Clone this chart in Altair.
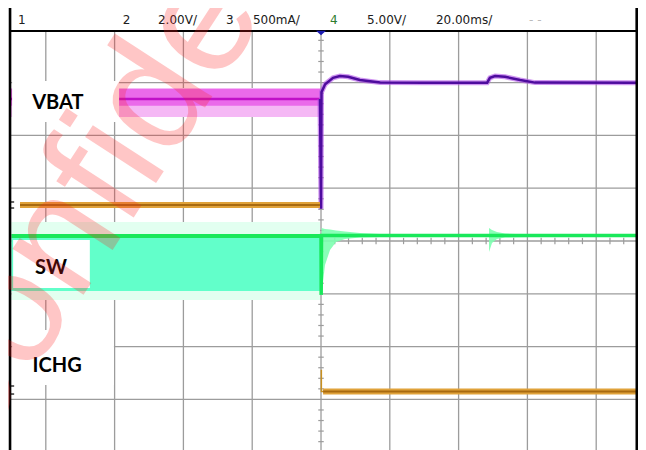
import altair as alt
import pandas as pd

# ---- scale extents (time in ms at 20 ms/div, vertical in screen divisions) ----
T_MIN, T_MAX = -90.99, 92.15
D_MIN, D_MAX = -3.958, 4.413
FRAME_L, FRAME_R = -90.4, 91.8
HEADER_D = 3.977

grid_t = [-80, -60, -40, -20, 0, 20, 40, 60, 80]
grid_d = [-3, -2, -1, 0, 1, 2, 3]

# ---- VBAT (ch2) ----
vbat_pre_t = [-90.4, -0.3]
vbat_pre_core = 2.69
vbat_pre_dense = (2.56, 2.88)
vbat_pre_fringe = (2.35, 2.90)
vbat_post_t = [-0.3, 0.0, 0.15, 1.2, 3.5, 5.5, 7.9, 11.3, 17.2, 30.0, 48.3, 49.1, 50.6, 53.5, 57.9, 62.2, 93.0]
vbat_post_d = [2.69, 0.61, 2.82, 2.97, 3.09, 3.125, 3.11, 3.05, 3.00, 2.998, 2.998, 3.09, 3.125, 3.11, 3.05, 3.00, 2.998]

# ---- ICHG (ch3) ----
ichg_pre_t = [-87.5, -0.3]
ichg_pre_d = [0.682, 0.682]
ichg_post_t = [0.6, 93.0]
ichg_post_d = [-2.85, -2.85]
ichg_spike_t = [0.1, 0.1, 0.6]
ichg_spike_d = [-2.44, -2.85, -2.85]

# ---- SW (ch4) ----
sw_pre_t = [-90.0, -0.3]
sw_pre_line = 0.095
sw_pre_fill = (-0.947, 0.057)
sw_pre_fringe = (-1.117, 0.36)
sw_post_t = [-0.3, 0.0, 0.05, 0.15, 93.0]
sw_post_d = [0.095, 0.095, -1.02, 0.104, 0.104]
env1_t = [0.15, 1.16, 2.62, 4.36, 6.98, 11.34, 17.15]
env1_hi = [0.246, 0.227, 0.218, 0.199, 0.180, 0.152, 0.133]
env1_lo = [-1.023, -0.455, -0.170, -0.019, 0.038, 0.066, 0.076]
env2_t = [48.84, 49.71, 51.16, 53.49, 60.76]
env2_hi = [0.246, 0.208, 0.170, 0.142, 0.123]
env2_lo = [-0.208, -0.038, 0.038, 0.066, 0.076]

# ---- labels ----
label_text = ["VBAT", "SW", "ICHG"]
label_t = [-76.5, -78.5, -76.7]
label_d = [2.614, -0.511, -2.367]
box_t0 = [-89.8, -89.5, -89.8]
box_t1 = [-58.7, -67.2, -60.2]
box_d0 = [3.03, 0.019, -1.686]
box_d1 = [2.254, -0.890, -2.727]

header_text = ["1", "2", "2.00V/", "3", "500mA/", "4", "5.00V/", "20.00ms/", "- -"]
header_t = [-88.1, -57.6, -47.4, -27.6, -19.8, 2.6, 13.4, 33.4, 60.5]
header_col = ["#202020", "#202020", "#202020", "#202020", "#202020", "#2E7D2E", "#202020", "#202020", "#BBBBBB"]
HEADER_TEXT_D = 4.119

xs = alt.Scale(domain=[T_MIN, T_MAX], nice=False, zero=False)
ys = alt.Scale(domain=[D_MIN, D_MAX], nice=False, zero=False)


def X(f):
    return alt.X(f"{f}:Q", scale=xs, axis=None)


def Y(f):
    return alt.Y(f"{f}:Q", scale=ys, axis=None)


layers = []

# grid
gv = pd.DataFrame({"t": grid_t, "d0": HEADER_D, "d1": D_MIN})
layers.append(alt.Chart(gv).mark_rule(color="#9C9C9C", strokeWidth=1.3).encode(
    x=X("t"), y=Y("d0"), y2=alt.Y2("d1")))
gh = pd.DataFrame({"d": grid_d, "t0": FRAME_L, "t1": FRAME_R})
layers.append(alt.Chart(gh).mark_rule(color="#9C9C9C", strokeWidth=1.3).encode(
    y=Y("d"), x=X("t0"), x2=alt.X2("t1")))

# minor ticks on the centre axes (0.2 div)
mv = pd.DataFrame({"d": [k * 0.2 for k in range(-19, 20) if k % 5], "t0": -0.8, "t1": 0.8})
layers.append(alt.Chart(mv).mark_rule(color="#9C9C9C", strokeWidth=1.2).encode(
    y=Y("d"), x=X("t0"), x2=alt.X2("t1")))
mh = pd.DataFrame({"t": [k * 4 for k in range(-22, 24) if k % 5], "d0": -0.06, "d1": 0.06})
layers.append(alt.Chart(mh).mark_rule(color="#9C9C9C", strokeWidth=1.2).encode(
    x=X("t"), y=Y("d0"), y2=alt.Y2("d1")))

# SW trace
swf = pd.DataFrame({"t": sw_pre_t, "lo": sw_pre_fringe[0], "hi": sw_pre_fringe[1]})
layers.append(alt.Chart(swf).mark_area(color="#E2FFF0", clip=True).encode(x=X("t"), y=Y("lo"), y2=alt.Y2("hi")))
swb = pd.DataFrame({"t": sw_pre_t, "lo": sw_pre_fill[0], "hi": sw_pre_fill[1]})
layers.append(alt.Chart(swb).mark_area(color="#62FFCA", clip=True).encode(x=X("t"), y=Y("lo"), y2=alt.Y2("hi")))
e1 = pd.DataFrame({"t": env1_t, "lo": env1_lo, "hi": env1_hi})
layers.append(alt.Chart(e1).mark_area(color="#7DFFB0", opacity=0.9).encode(x=X("t"), y=Y("lo"), y2=alt.Y2("hi")))
e2 = pd.DataFrame({"t": env2_t, "lo": env2_lo, "hi": env2_hi})
layers.append(alt.Chart(e2).mark_area(color="#7DFFB0", opacity=0.9).encode(x=X("t"), y=Y("lo"), y2=alt.Y2("hi")))
swl = pd.DataFrame({"t": sw_pre_t, "d": sw_pre_line})
layers.append(alt.Chart(swl).mark_line(color="#19E85A", strokeWidth=4, clip=True).encode(x=X("t"), y=Y("d")))
swp = pd.DataFrame({"t": sw_post_t, "d": sw_post_d, "o": list(range(len(sw_post_t)))})
layers.append(alt.Chart(swp).mark_line(color="#19E85A", strokeWidth=3.5, clip=True).encode(
    x=X("t"), y=Y("d"), order="o:Q"))

# VBAT trace
vf = pd.DataFrame({"t": vbat_pre_t, "lo": vbat_pre_fringe[0], "hi": vbat_pre_fringe[1]})
layers.append(alt.Chart(vf).mark_area(color="#F5B8F5", clip=True).encode(x=X("t"), y=Y("lo"), y2=alt.Y2("hi")))
vd = pd.DataFrame({"t": vbat_pre_t, "lo": vbat_pre_dense[0], "hi": vbat_pre_dense[1]})
layers.append(alt.Chart(vd).mark_area(color="#EA6AEA", clip=True).encode(x=X("t"), y=Y("lo"), y2=alt.Y2("hi")))
vc = pd.DataFrame({"t": vbat_pre_t, "d": vbat_pre_core})
layers.append(alt.Chart(vc).mark_line(color="#C010C8", strokeWidth=2.5, clip=True).encode(x=X("t"), y=Y("d")))
vp = pd.DataFrame({"t": vbat_post_t, "d": vbat_post_d, "o": list(range(len(vbat_post_t)))})
layers.append(alt.Chart(vp).mark_line(color="#B050E8", strokeWidth=5, opacity=0.6, clip=True).encode(
    x=X("t"), y=Y("d"), order="o:Q"))
layers.append(alt.Chart(vp).mark_line(color="#4E0C9E", strokeWidth=2.5, clip=True).encode(
    x=X("t"), y=Y("d"), order="o:Q"))

# ICHG trace
for tt, dd in ((ichg_pre_t, ichg_pre_d), (ichg_post_t, ichg_post_d)):
    df = pd.DataFrame({"t": tt, "d": dd})
    layers.append(alt.Chart(df).mark_line(color="#E0A23A", strokeWidth=6, clip=True).encode(
        x=X("t"), y=Y("d")))
    layers.append(alt.Chart(df).mark_line(color="#A86A10", strokeWidth=2, clip=True).encode(
        x=X("t"), y=Y("d")))
isp = pd.DataFrame({"t": ichg_spike_t, "d": ichg_spike_d, "o": list(range(len(ichg_spike_t)))})
layers.append(alt.Chart(isp).mark_line(color="#C89020", strokeWidth=1.5, clip=True).encode(
    x=X("t"), y=Y("d"), order="o:Q"))

# white label boxes and labels
bx = pd.DataFrame({"t0": box_t0, "t1": box_t1, "d0": box_d0, "d1": box_d1})
layers.append(alt.Chart(bx).mark_rect(color="white").encode(
    x=X("t0"), x2=alt.X2("t1"), y=Y("d0"), y2=alt.Y2("d1")))
lb = pd.DataFrame({"t": label_t, "d": label_d, "s": label_text})
layers.append(alt.Chart(lb).mark_text(font="Lato", fontWeight="bold", fontSize=20, color="black",
                                      align="center", baseline="middle").encode(
    x=X("t"), y=Y("d"), text="s:N"))

# header box
hb = pd.DataFrame({"t0": [FRAME_L], "t1": [FRAME_R], "d0": [D_MAX + 0.05], "d1": [HEADER_D]})
layers.append(alt.Chart(hb).mark_rect(fill="white", stroke="black", strokeWidth=2).encode(
    x=X("t0"), x2=alt.X2("t1"), y=Y("d0"), y2=alt.Y2("d1")))
ht = pd.DataFrame({"t": header_t, "d": HEADER_TEXT_D, "s": header_text, "c": header_col})
layers.append(alt.Chart(ht).mark_text(font="DejaVu Sans", fontSize=12, align="left",
                                      baseline="alphabetic").encode(
    x=X("t"), y=Y("d"), text="s:N", color=alt.Color("c:N", scale=None)))

# frame borders
fr = pd.DataFrame({"t": [FRAME_L, FRAME_R], "d0": D_MAX, "d1": D_MIN})
layers.append(alt.Chart(fr).mark_rule(color="black", strokeWidth=2.6).encode(
    x=X("t"), y=Y("d0"), y2=alt.Y2("d1")))

# channel offset markers on left edge
cm = pd.DataFrame({"d": [0.739, 0.625, -2.746, -2.898], "t0": FRAME_L, "t1": -89.2})
layers.append(alt.Chart(cm).mark_rule(color="black", strokeWidth=1.2).encode(
    y=Y("d"), x=X("t0"), x2=alt.X2("t1")))

# trigger marker
tg = pd.DataFrame({"t": [0.0], "d": [3.939]})
layers.append(alt.Chart(tg).mark_point(shape="M-1,-0.45L1,-0.45L0,0.45Z", filled=True, size=100,
                                       color="#1A1AB0", opacity=1).encode(x=X("t"), y=Y("d")))

# watermark
wm = pd.DataFrame({"t": [-47.97], "d": [2.765], "s": ["Confidential"]})
layers.append(alt.Chart(wm).mark_text(font="Liberation Sans", fontSize=160, angle=303, color="#FF2020",
                                      opacity=0.25, align="center", baseline="middle").encode(
    x=X("t"), y=Y("d"), text="s:N"))

chart = alt.layer(*layers).properties(
    width=630, height=442, padding=0,
    autosize=alt.AutoSizeParams(type="none"), background="white"
).configure_view(stroke=None)

chart.save("out.html", embed_options={"renderer": "svg", "actions": False})
